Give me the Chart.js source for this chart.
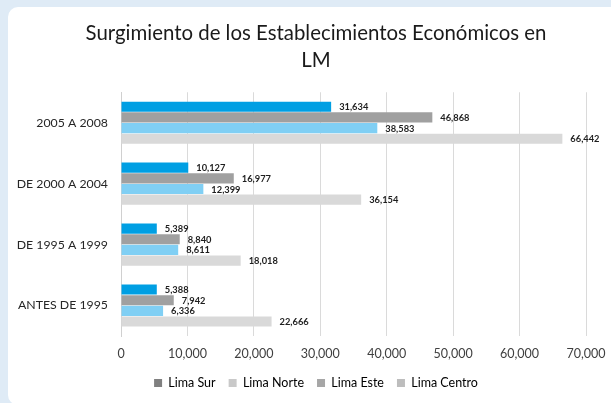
<!DOCTYPE html>
<html>
<head>
<meta charset="utf-8">
<script src="https://cdn.jsdelivr.net/npm/chart.js@4.4.1/dist/chart.umd.min.js"></script>
<style>
  html, body { margin: 0; padding: 0; width: 611px; height: 403px; overflow: hidden; background: #DFEBF6; }
  #card { position: absolute; left: 8px; top: 7px; width: 660px; height: 398px; background: #FFFFFF; border-radius: 10px; }
  #c { position: absolute; left: 8px; top: 7px; }
</style>
</head>
<body>
<div id="card"></div>
<canvas id="c" width="616" height="396"></canvas>
<script>
const categories = ['2005 A 2008', 'DE 2000 A 2004', 'DE 1995 A 1999', 'ANTES DE 1995'];
const seriesNames = ['Lima Sur', 'Lima Norte', 'Lima Este', 'Lima Centro'];
const limaSur = [31634, 10127, 5389, 5388];
const limaNorte = [46868, 16977, 8840, 7942];
const limaEste = [38583, 12399, 8611, 6336];
const limaCentro = [66442, 36154, 18018, 22666];
const xTicks = [0, 10000, 20000, 30000, 40000, 50000, 60000, 70000];
const titleLines = ['Surgimiento de los Establecimientos Económicos en', 'LM'];

const barColors = ['#009FE3', '#A0A0A0', '#80CFF4', '#D9D9D9'];
const legendColors = ['#808080', '#C9C9C9', '#A6A6A6', '#BDBDBD'];
const FONT = 'Lato, "Open Sans", sans-serif';

const fmt = v => Number(v).toLocaleString('en-US');

const valueLabels = {
  id: 'valueLabels',
  afterDatasetsDraw(chart) {
    const ctx = chart.ctx;
    ctx.save();
    ctx.font = 'bold 9.3px ' + FONT;
    ctx.fillStyle = '#1E1E1E';
    ctx.textBaseline = 'middle';
    ctx.textAlign = 'left';
    chart.data.datasets.forEach((ds, i) => {
      const meta = chart.getDatasetMeta(i);
      meta.data.forEach((el, j) => {
        ctx.fillText(fmt(ds.data[j]), el.x + 8, el.y + 0.5);
      });
    });
    ctx.restore();
  }
};

const seriesData = [limaSur, limaNorte, limaEste, limaCentro];

new Chart(document.getElementById('c'), {
  type: 'bar',
  data: {
    labels: categories,
    datasets: seriesNames.map((name, i) => ({
      label: name,
      data: seriesData[i],
      backgroundColor: barColors[i],
      borderWidth: 0,
      barPercentage: 0.95,
      categoryPercentage: 0.7
    }))
  },
  options: {
    indexAxis: 'y',
    responsive: false,
    animation: false,
    devicePixelRatio: 1,
    layout: { padding: { left: 0, right: 0, top: 0, bottom: 3.75 } },
    plugins: {
      title: {
        display: true,
        text: titleLines,
        color: '#1A1A1A',
        font: { family: FONT, size: 20.4, weight: 'normal', lineHeight: 1.33 },
        padding: { top: 12.5, bottom: 18.5 }
      },
      legend: {
        display: true,
        position: 'bottom',
        labels: {
          boxWidth: 8,
          boxHeight: 8,
          padding: 13,
          color: '#595959',
          font: { family: FONT, size: 12.5 },
          generateLabels(chart) {
            return seriesNames.map((n, i) => ({
              text: n,
              fillStyle: legendColors[i],
              strokeStyle: legendColors[i],
              lineWidth: 0,
              hidden: false,
              datasetIndex: i
            }));
          }
        }
      },
      tooltip: { enabled: false }
    },
    scales: {
      x: {
        min: 0,
        max: 70000,
        afterBuildTicks(scale) { scale.ticks = xTicks.map(v => ({ value: v })); },
        ticks: {
          color: '#404040',
          font: { family: FONT, size: 12.5 },
          padding: 10.5,
          callback: v => fmt(v),
          maxRotation: 0
        },
        grid: { color: '#DADADA', lineWidth: 1, drawTicks: false },
        border: { display: false },
        afterFit(scale) { scale.height = 27.75; }
      },
      y: {
        ticks: {
          color: '#262626',
          font: { family: FONT, size: 12.3 },
          padding: 13
        },
        grid: { display: false, drawTicks: false },
        border: { display: true, color: '#D0D0D0', width: 1 },
        afterFit(scale) { scale.width = 113; }
      },
      yRightSpace: {
        type: 'category',
        position: 'right',
        display: true,
        ticks: { display: false },
        grid: { display: false, drawTicks: false },
        border: { display: false },
        afterFit(scale) { scale.width = 38; }
      }
    }
  },
  plugins: [valueLabels]
});
</script>
</body>
</html>
